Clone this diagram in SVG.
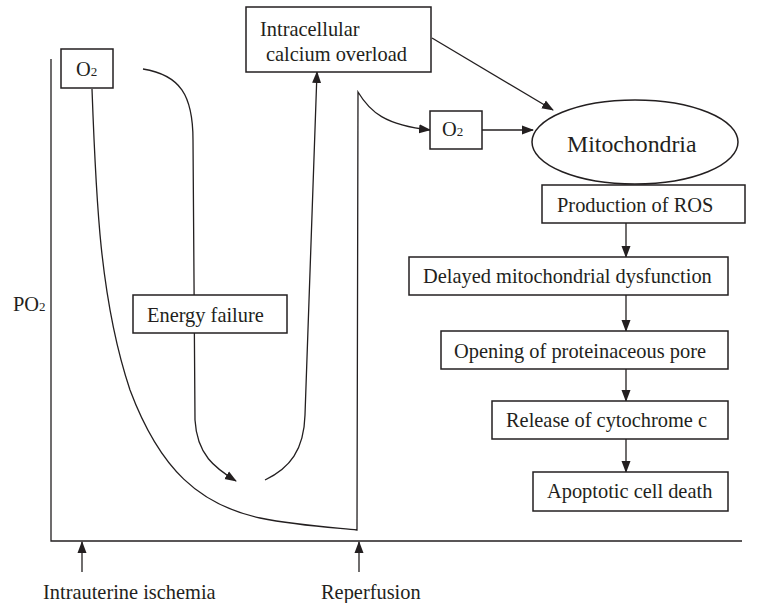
<svg xmlns="http://www.w3.org/2000/svg" width="757" height="603" viewBox="0 0 757 603" font-family="'Liberation Serif', 'DejaVu Serif', serif">
<style>
.ln{fill:none;stroke:#231f20;stroke-width:1.3}
.bx{fill:#fff;stroke:#231f20;stroke-width:1.5}
.t{font-family:'Liberation Serif', 'DejaVu Serif', serif;font-size:20.4px;fill:#231f20}
.sub{font-size:13px}
</style>
<defs>
<marker id="ah" markerWidth="12" markerHeight="10" refX="11" refY="5" orient="auto" markerUnits="userSpaceOnUse">
<path d="M0,0.5 L12,5 L0,9.5 Z" fill="#231f20"/>
</marker>
</defs>
<rect width="757" height="603" fill="#fff"/>
<g id="axes">
<path class="ln" d="M51,59 L51,541 L742,541"/>
<text class="t" x="13" y="311">PO<tspan class="sub">2</tspan></text>
</g>
<g id="connectors">
<path class="ln" d="M92,89 C96,200 100,300 130,390 C160,470 200,505 260,518 C300,526 340,528 357,530 L358,92 C370,112 385,125 430,130" marker-end="url(#ah)"/>
<path class="ln" d="M143,69 C180,75 193,95 193,140 L195,420 C197,455 215,468 236,481" marker-end="url(#ah)"/>
<path class="ln" d="M265,480 C290,468 304,450 305,415 L317,72" marker-end="url(#ah)"/>
<path class="ln" d="M432,38 L553,110" marker-end="url(#ah)"/>
<path class="ln" d="M482,130 L533,130" marker-end="url(#ah)"/>
<path class="ln" d="M626,223 L626,257" marker-end="url(#ah)"/>
<path class="ln" d="M626,295 L626,331" marker-end="url(#ah)"/>
<path class="ln" d="M626,369 L626,401" marker-end="url(#ah)"/>
<path class="ln" d="M626,439 L626,472" marker-end="url(#ah)"/>
<path class="ln" d="M82,572 L82,542" marker-end="url(#ah)"/>
<path class="ln" d="M359,572 L359,542" marker-end="url(#ah)"/>
</g>
<g id="o2-left">
<rect class="bx" x="61" y="49" width="52" height="39"/>
<text class="t" x="76" y="76">O<tspan class="sub">2</tspan></text>
</g>
<g id="calcium">
<rect class="bx" x="246" y="7" width="185" height="65"/>
<text class="t" x="260" y="36">Intracellular</text>
<text class="t" x="266" y="61">calcium overload</text>
</g>
<g id="energy">
<rect class="bx" x="133" y="295" width="154" height="38"/>
<text class="t" x="147" y="322">Energy failure</text>
</g>
<g id="o2-right">
<rect class="bx" x="430" y="111" width="52" height="38"/>
<text class="t" x="442" y="136">O<tspan class="sub">2</tspan></text>
</g>
<g id="mitochondria">
<ellipse class="bx" cx="635" cy="142" rx="103" ry="42"/>
<text class="t" x="567" y="152" style="font-size:23.8px">Mitochondria</text>
</g>
<g id="ros">
<rect class="bx" x="542" y="185" width="203" height="38"/>
<text class="t" x="557" y="212">Production of ROS</text>
</g>
<g id="delayed">
<rect class="bx" x="409" y="257" width="319" height="38"/>
<text class="t" x="423" y="283">Delayed mitochondrial dysfunction</text>
</g>
<g id="opening">
<rect class="bx" x="441" y="331" width="287" height="38"/>
<text class="t" x="454" y="358">Opening of proteinaceous pore</text>
</g>
<g id="release">
<rect class="bx" x="492" y="401" width="236" height="38"/>
<text class="t" x="506" y="427">Release of cytochrome c</text>
</g>
<g id="apoptotic">
<rect class="bx" x="533" y="472" width="195" height="39"/>
<text class="t" x="547" y="498">Apoptotic cell death</text>
</g>
<g id="labels">
<text class="t" x="43" y="599">Intrauterine ischemia</text>
<text class="t" x="321" y="599">Reperfusion</text>
</g>
</svg>
